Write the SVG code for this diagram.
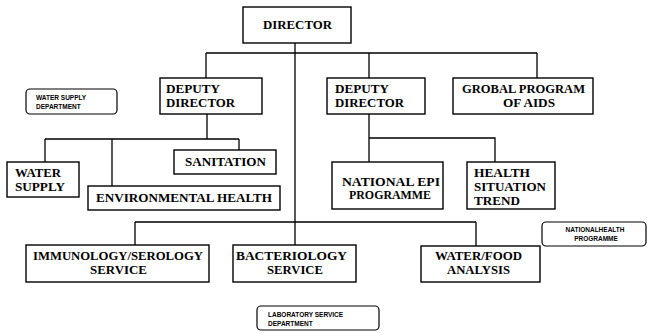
<svg xmlns="http://www.w3.org/2000/svg" width="647" height="333" viewBox="0 0 647 333">
<style>
.b{fill:#fff;stroke:#000;stroke-width:1.4}
.r{fill:#fff;stroke:#000;stroke-width:1.2}
.t{font-family:"Liberation Serif","Times New Roman",Times,"DejaVu Serif",serif;font-weight:700;font-size:12px;fill:#000}
.s{font-family:"Liberation Sans",Arial,sans-serif;font-weight:700;font-size:6.5px;fill:#000}
.c{text-anchor:middle}
.l{fill:none;stroke:#000;stroke-width:1.3}
</style>
<rect width="647" height="333" fill="#fff"/>
<g id="connectors">
<path class="l" d="M295,43V245M206,53H537M206,53V78M369,53V78M537,53V78"/>
<path class="l" d="M207,114V139M45,139H239M45,139V162M112,139V186M239,139V150"/>
<path class="l" d="M369,114V162M369,138H495V162"/>
<path class="l" d="M135,222H476M135,222V245M476,222V246"/>
</g>
<g id="director"><rect class="b" x="243" y="7" width="108" height="36"/><text class="t" x="263" y="29" textLength="69" lengthAdjust="spacingAndGlyphs">DIRECTOR</text></g>
<g id="deputy1"><rect class="b" x="160" y="78" width="102" height="36"/><text class="t" x="166" y="93" textLength="54" lengthAdjust="spacingAndGlyphs">DEPUTY</text><text class="t" x="166" y="107" textLength="69" lengthAdjust="spacingAndGlyphs">DIRECTOR</text></g>
<g id="deputy2"><rect class="b" x="327" y="78" width="98" height="36"/><text class="t" x="335" y="93" textLength="54" lengthAdjust="spacingAndGlyphs">DEPUTY</text><text class="t" x="335" y="107" textLength="69" lengthAdjust="spacingAndGlyphs">DIRECTOR</text></g>
<g id="aids"><rect class="b" x="453" y="78" width="140" height="36"/><text class="t" x="462" y="93" textLength="123" lengthAdjust="spacingAndGlyphs">GROBAL PROGRAM</text><text class="t" x="503" y="107" textLength="52" lengthAdjust="spacingAndGlyphs">OF AIDS</text></g>
<g id="water-dept"><rect class="r" x="26" y="89" width="91" height="25" rx="4"/><text class="s" x="36" y="100">WATER SUPPLY</text><text class="s" x="36" y="109">DEPARTMENT</text></g>
<g id="sanitation"><rect class="b" x="174" y="150" width="102" height="24"/><text class="t" x="185" y="166" textLength="81" lengthAdjust="spacingAndGlyphs">SANITATION</text></g>
<g id="water-supply"><rect class="b" x="7" y="162" width="72" height="35"/><text class="t" x="15" y="177" textLength="46" lengthAdjust="spacingAndGlyphs">WATER</text><text class="t" x="15" y="191" textLength="50" lengthAdjust="spacingAndGlyphs">SUPPLY</text></g>
<g id="env-health"><rect class="b" x="88" y="186" width="192" height="24"/><text class="t" x="96" y="202" textLength="176" lengthAdjust="spacingAndGlyphs">ENVIRONMENTAL HEALTH</text></g>
<g id="epi"><rect class="b" x="332" y="162" width="111" height="47"/><text class="t" x="342" y="186" textLength="98" lengthAdjust="spacingAndGlyphs">NATIONAL EPI</text><text class="t" x="349" y="199" textLength="82" lengthAdjust="spacingAndGlyphs">PROGRAMME</text></g>
<g id="health-trend"><rect class="b" x="467" y="162" width="88" height="47"/><text class="t" x="474" y="177" textLength="56" lengthAdjust="spacingAndGlyphs">HEALTH</text><text class="t" x="474" y="191" textLength="72" lengthAdjust="spacingAndGlyphs">SITUATION</text><text class="t" x="474" y="205" textLength="46" lengthAdjust="spacingAndGlyphs">TREND</text></g>
<g id="nh-programme"><rect class="r" x="542" y="222" width="104" height="24" rx="4"/><text class="s c" x="595" y="232">NATIONALHEALTH</text><text class="s c" x="596" y="241">PROGRAMME</text></g>
<g id="immunology"><rect class="b" x="26" y="245" width="183" height="37"/><text class="t" x="33" y="260" textLength="170" lengthAdjust="spacingAndGlyphs">IMMUNOLOGY/SEROLOGY</text><text class="t" x="90" y="274" textLength="57" lengthAdjust="spacingAndGlyphs">SERVICE</text></g>
<g id="bacteriology"><rect class="b" x="233" y="245" width="123" height="37"/><text class="t" x="236" y="260" textLength="111" lengthAdjust="spacingAndGlyphs">BACTERIOLOGY</text><text class="t" x="267" y="274" textLength="56" lengthAdjust="spacingAndGlyphs">SERVICE</text></g>
<g id="water-food"><rect class="b" x="421" y="246" width="119" height="36"/><text class="t" x="435" y="260" textLength="87" lengthAdjust="spacingAndGlyphs">WATER/FOOD</text><text class="t" x="447" y="274" textLength="63" lengthAdjust="spacingAndGlyphs">ANALYSIS</text></g>
<g id="lab-dept"><rect class="r" x="257" y="306" width="122" height="24" rx="4"/><text class="s" x="268" y="317">LABORATORY  SERVICE</text><text class="s" x="268" y="326">DEPARTMENT</text></g>
</svg>
